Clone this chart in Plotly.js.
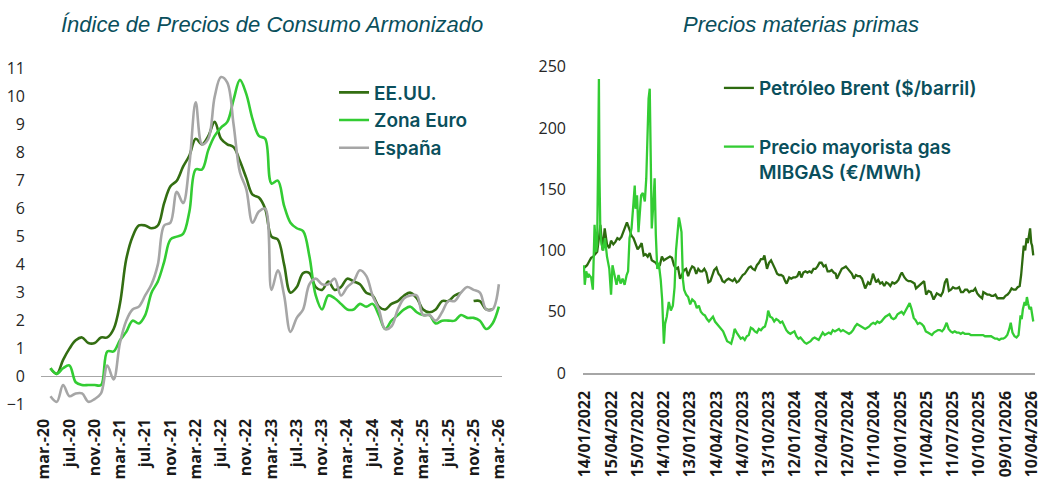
<!DOCTYPE html>
<html>
<head>
<meta charset="utf-8">
<script src="https://cdn.plot.ly/plotly-3.0.1.min.js"></script>
<style>
html,body{margin:0;padding:0;background:#ffffff;}
#chart{width:1040px;height:482px;}
</style>
</head>
<body>
<div id="chart"></div>
<script>
// ---------- Left chart: HICP (% yoy), monthly, mar.-20 .. mar.-26 ----------
const months = [
 "mar.-20","abr.-20","may.-20","jun.-20","jul.-20","ago.-20","sep.-20","oct.-20","nov.-20","dic.-20",
 "ene.-21","feb.-21","mar.-21","abr.-21","may.-21","jun.-21","jul.-21","ago.-21","sep.-21","oct.-21","nov.-21","dic.-21",
 "ene.-22","feb.-22","mar.-22","abr.-22","may.-22","jun.-22","jul.-22","ago.-22","sep.-22","oct.-22","nov.-22","dic.-22",
 "ene.-23","feb.-23","mar.-23","abr.-23","may.-23","jun.-23","jul.-23","ago.-23","sep.-23","oct.-23","nov.-23","dic.-23",
 "ene.-24","feb.-24","mar.-24","abr.-24","may.-24","jun.-24","jul.-24","ago.-24","sep.-24","oct.-24","nov.-24","dic.-24",
 "ene.-25","feb.-25","mar.-25","abr.-25","may.-25","jun.-25","jul.-25","ago.-25","sep.-25","oct.-25","nov.-25","dic.-25",
 "ene.-26","feb.-26","mar.-26"
];
const monthTicks = ["mar.-20","jul.-20","nov.-20","mar.-21","jul.-21","nov.-21","mar.-22","jul.-22","nov.-22",
 "mar.-23","jul.-23","nov.-23","mar.-24","jul.-24","nov.-24","mar.-25","jul.-25","nov.-25","mar.-26"];

const usa = [null,0.3,0.1,0.6,1.0,1.3,1.4,1.2,1.2,1.4,
 1.4,1.7,2.6,4.2,5.0,5.4,5.4,5.3,5.4,6.2,6.8,7.0,
 7.5,7.9,8.5,8.3,8.6,9.1,8.5,8.3,8.2,7.7,7.1,6.5,
 6.4,6.0,5.0,4.9,4.0,3.0,3.2,3.7,3.7,3.2,3.1,3.4,
 3.1,3.2,3.5,3.4,3.3,3.0,2.9,2.5,2.4,2.6,2.7,2.9,
 3.0,2.8,2.4,2.3,2.4,2.7,2.7,2.9,3.0,null,2.7,2.7,
 2.4,2.4,null];
const euroZone = [null,0.3,0.1,0.3,0.4,-0.2,-0.3,-0.3,-0.3,-0.3,
 0.9,0.9,1.3,1.6,2.0,1.9,2.2,3.0,3.4,4.1,4.9,5.0,
 5.1,5.9,7.4,7.4,8.1,8.6,8.9,9.1,9.9,10.6,10.1,9.2,
 8.6,8.5,6.9,7.0,6.1,5.5,5.3,5.2,4.3,2.9,2.4,2.9,
 2.8,2.6,2.4,2.4,2.6,2.5,2.6,2.2,1.7,2.0,2.2,2.4,
 2.5,2.3,2.2,2.2,1.9,2.0,2.0,2.0,2.2,2.1,2.1,2.0,
 1.7,1.9,2.5];
const spain = [null,-0.7,-0.9,-0.3,-0.7,-0.6,-0.6,-0.9,-0.8,-0.6,
 0.4,-0.1,1.2,2.0,2.4,2.5,2.9,3.3,4.0,5.4,5.5,6.6,
 6.2,7.6,9.8,8.3,8.5,10.0,10.7,10.5,9.0,7.3,6.7,5.5,
 5.9,6.0,3.1,3.8,2.9,1.6,2.1,2.4,3.3,3.5,3.3,3.3,
 3.5,2.9,3.2,3.4,3.8,3.6,2.9,2.4,1.7,1.8,2.4,2.8,
 2.9,2.9,2.2,2.2,2.0,2.3,2.7,2.7,3.0,3.2,3.1,3.0,
 2.4,2.4,3.3];

// ---------- Right chart: commodity prices ----------
const brentDates = [
 "2022-01-12","2022-01-21","2022-01-28","2022-02-04","2022-02-11","2022-02-18","2022-02-25","2022-03-04","2022-03-08","2022-03-11",
 "2022-03-16","2022-03-23","2022-03-31","2022-04-08","2022-04-14","2022-04-22","2022-04-29","2022-05-06","2022-05-13","2022-05-20",
 "2022-05-27","2022-06-03","2022-06-08","2022-06-17","2022-06-24","2022-07-01","2022-07-08","2022-07-15","2022-07-22","2022-07-29",
 "2022-08-05","2022-08-12","2022-08-19","2022-08-26","2022-09-02","2022-09-09","2022-09-16","2022-09-23","2022-09-30","2022-10-07",
 "2022-10-14","2022-10-21","2022-10-28","2022-11-04","2022-11-11","2022-11-18","2022-11-25","2022-12-02","2022-12-09","2022-12-16",
 "2022-12-23","2022-12-30","2023-01-06","2023-01-13","2023-01-20","2023-01-27","2023-02-03","2023-02-10","2023-02-17","2023-02-24",
 "2023-03-03","2023-03-10","2023-03-17","2023-03-24","2023-03-31","2023-04-06","2023-04-14","2023-04-21","2023-04-28","2023-05-05",
 "2023-05-12","2023-05-19","2023-05-26","2023-06-02","2023-06-09","2023-06-16","2023-06-23","2023-06-30","2023-07-07","2023-07-14",
 "2023-07-21","2023-07-28","2023-08-04","2023-08-11","2023-08-18","2023-08-25","2023-09-01","2023-09-08","2023-09-15","2023-09-22",
 "2023-09-27","2023-10-06","2023-10-13","2023-10-20","2023-10-27","2023-11-03","2023-11-10","2023-11-17","2023-11-24","2023-12-01",
 "2023-12-08","2023-12-13","2023-12-22","2023-12-29","2024-01-05","2024-01-12","2024-01-19","2024-01-26","2024-02-02","2024-02-09",
 "2024-02-16","2024-02-23","2024-03-01","2024-03-08","2024-03-15","2024-03-22","2024-03-29","2024-04-05","2024-04-12","2024-04-19",
 "2024-04-26","2024-05-03","2024-05-10","2024-05-17","2024-05-24","2024-05-31","2024-06-04","2024-06-14","2024-06-21","2024-06-28",
 "2024-07-05","2024-07-12","2024-07-19","2024-07-26","2024-08-02","2024-08-09","2024-08-16","2024-08-23","2024-08-30","2024-09-06",
 "2024-09-10","2024-09-20","2024-09-27","2024-10-04","2024-10-07","2024-10-18","2024-10-25","2024-11-01","2024-11-08","2024-11-15",
 "2024-11-22","2024-11-29","2024-12-06","2024-12-13","2024-12-20","2024-12-27","2025-01-03","2025-01-10","2025-01-15","2025-01-24",
 "2025-01-31","2025-02-07","2025-02-14","2025-02-21","2025-02-28","2025-03-05","2025-03-14","2025-03-21","2025-03-28","2025-04-02",
 "2025-04-09","2025-04-17","2025-04-25","2025-05-02","2025-05-05","2025-05-16","2025-05-23","2025-05-30","2025-06-06","2025-06-13",
 "2025-06-20","2025-06-27","2025-07-04","2025-07-11","2025-07-18","2025-07-25","2025-08-01","2025-08-08","2025-08-15","2025-08-22",
 "2025-08-29","2025-09-05","2025-09-12","2025-09-19","2025-09-26","2025-10-03","2025-10-10","2025-10-20","2025-10-24","2025-10-31",
 "2025-11-07","2025-11-14","2025-11-21","2025-11-28","2025-12-05","2025-12-12","2025-12-19","2025-12-26","2026-01-02","2026-01-09",
 "2026-01-16","2026-01-23","2026-01-30","2026-02-06","2026-02-13","2026-02-20","2026-02-27","2026-03-04","2026-03-09","2026-03-13",
 "2026-03-18","2026-03-23","2026-03-27","2026-04-01","2026-04-04","2026-04-08","2026-04-11","2026-04-15"
];
const brentValues = [
 86,88,91,94,95,97,99,112,121,113,
 100,118,105,102,108,105,107,110,109,111,
 115,119,123,117,112,110,105,101,103,106,
 96,97,95,98,92,91,90,87,88,95,
 92,93,94,95,94,88,85,86,77,80,
 84,85,79,84,87,86,81,85,83,83,
 85,82,74,75,79,84,86,81,79,75,
 74,76,77,76,75,77,74,75,78,80,
 81,84,86,87,85,84,88,90,93,93,
 96,85,90,92,89,85,81,80,80,79,
 75,73,78,77,78,78,79,83,78,82,
 83,82,83,82,85,85,87,90,90,87,
 88,83,83,84,82,81,77,82,85,86,
 87,85,83,81,77,80,79,79,77,72,
 69,74,72,78,81,74,76,73,74,71,
 74,73,71,74,73,74,76,80,82,78,
 76,75,75,74,73,69,71,72,74,75,
 64,67,66,61,60,65,64,63,66,74,
 77,67,68,70,69,69,70,66,66,68,
 68,66,67,67,69,65,63,61,66,65,
 64,64,63,63,64,61,61,61,61,63,
 64,66,69,68,68,70,71,80,95,104,
 100,110,106,113,118,106,104,96
];

const gasDates = [
 "2022-01-10","2022-01-13","2022-01-18","2022-01-24","2022-01-28","2022-02-04","2022-02-10","2022-02-16","2022-02-21","2022-02-25",
 "2022-03-01","2022-03-03","2022-03-05","2022-03-08","2022-03-12","2022-03-18","2022-03-24","2022-03-31","2022-04-08","2022-04-14",
 "2022-04-19","2022-04-26","2022-05-03","2022-05-10","2022-05-17","2022-05-24","2022-05-31","2022-06-07","2022-06-12","2022-06-17",
 "2022-06-24","2022-07-01","2022-07-05","2022-07-08","2022-07-13","2022-07-18","2022-07-22","2022-07-27","2022-08-02","2022-08-09",
 "2022-08-14","2022-08-19","2022-08-22","2022-08-26","2022-08-30","2022-09-02","2022-09-08","2022-09-12","2022-09-16","2022-09-21",
 "2022-09-26","2022-10-03","2022-10-08","2022-10-14","2022-10-18","2022-10-24","2022-10-31","2022-11-07","2022-11-14","2022-11-20",
 "2022-11-25","2022-11-30","2022-12-05","2022-12-09","2022-12-14","2022-12-19","2022-12-23","2022-12-30","2023-01-06","2023-01-13",
 "2023-01-20","2023-01-29","2023-02-05","2023-02-12","2023-02-19","2023-02-26","2023-03-05","2023-03-12","2023-03-19","2023-03-26",
 "2023-04-02","2023-04-09","2023-04-16","2023-04-23","2023-04-30","2023-05-07","2023-05-14","2023-05-21","2023-05-28","2023-06-04",
 "2023-06-11","2023-06-16","2023-06-23","2023-06-30","2023-07-07","2023-07-14","2023-07-21","2023-07-28","2023-08-04","2023-08-11",
 "2023-08-18","2023-08-25","2023-09-01","2023-09-08","2023-09-15","2023-09-22","2023-09-29","2023-10-06","2023-10-10","2023-10-17",
 "2023-10-24","2023-10-31","2023-11-07","2023-11-14","2023-11-21","2023-11-28","2023-12-05","2023-12-12","2023-12-19","2023-12-26",
 "2024-01-02","2024-01-09","2024-01-16","2024-01-23","2024-01-30","2024-02-06","2024-02-13","2024-02-20","2024-02-27","2024-03-05",
 "2024-03-12","2024-03-19","2024-03-26","2024-04-02","2024-04-09","2024-04-16","2024-04-23","2024-04-30","2024-05-07","2024-05-14",
 "2024-05-21","2024-05-28","2024-06-04","2024-06-11","2024-06-18","2024-06-25","2024-07-02","2024-07-09","2024-07-16","2024-07-23",
 "2024-07-30","2024-08-06","2024-08-13","2024-08-20","2024-08-27","2024-09-03","2024-09-10","2024-09-17","2024-09-24","2024-10-01",
 "2024-10-08","2024-10-15","2024-10-22","2024-10-29","2024-11-05","2024-11-12","2024-11-19","2024-11-26","2024-12-03","2024-12-10",
 "2024-12-17","2024-12-24","2024-12-31","2025-01-07","2025-01-14","2025-01-21","2025-01-28","2025-02-04","2025-02-11","2025-02-18",
 "2025-02-25","2025-03-04","2025-03-11","2025-03-18","2025-03-25","2025-04-01","2025-04-08","2025-04-15","2025-04-22","2025-04-29",
 "2025-05-06","2025-05-13","2025-05-20","2025-05-27","2025-06-03","2025-06-10","2025-06-19","2025-06-26","2025-07-03","2025-07-10",
 "2025-07-17","2025-07-24","2025-07-31","2025-08-07","2025-08-14","2025-08-21","2025-08-28","2025-09-04","2025-09-11","2025-09-18",
 "2025-09-25","2025-10-02","2025-10-09","2025-10-16","2025-10-23","2025-10-30","2025-11-06","2025-11-13","2025-11-20","2025-11-27",
 "2025-12-04","2025-12-11","2025-12-18","2025-12-25","2026-01-01","2026-01-08","2026-01-15","2026-01-22","2026-01-27","2026-02-02",
 "2026-02-09","2026-02-16","2026-02-23","2026-03-02","2026-03-06","2026-03-10","2026-03-16","2026-03-20","2026-03-24","2026-03-28",
 "2026-04-02","2026-04-07","2026-04-12","2026-04-15"
];
const gasValues = [
 88,72,83,78,80,78,68,121,99,105,
 190,240,160,115,105,100,110,95,85,64,
 88,80,72,80,73,77,72,80,83,110,
 118,140,153,134,145,115,130,145,147,140,
 159,200,224,232,146,118,140,159,113,85,
 90,76,60,24,40,46,58,51,55,70,
 100,118,127,122,115,76,68,64,62,56,
 60,58,53,55,50,48,47,44,42,44,
 46,42,40,38,36,34,30,26,25,24,
 30,36,33,30,28,29,27,30,31,37,
 36,34,33,36,35,37,38,44,51,46,
 45,42,44,43,41,42,38,35,33,32,
 33,34,30,28,29,27,25,24,25,26,
 28,29,28,27,30,33,31,32,33,32,
 35,34,35,36,34,35,34,33,32,33,
 35,38,40,39,38,37,36,37,38,40,
 41,40,42,41,42,44,46,47,48,45,
 44,45,48,49,50,48,51,54,57,52,
 45,43,40,41,40,38,34,33,32,31,
 33,34,35,35,34,36,41,36,34,33,
 34,33,33,32,33,32,32,32,31,31,
 31,31,31,31,31,30,30,30,30,29,
 28,28,27,28,28,29,31,36,41,33,
 30,29,31,47,44,52,58,55,62,57,
 52,54,45,42
];

const dateTick0 = "2022-01-14";
const dateTickDays = 91;

const teal = "#0a4f5c";
const tickFont = {family: "Open Sans", size: 16, color: "#262626"};
const xTickFont = {family: "Open Sans", size: 16, color: "#1a1a1a", weight: 700};
const legendFont = {family: "Inter", size: 19, color: teal, weight: 600};
const titleFont = {family: "Liberation Sans", size: 22, color: teal, style: "italic"};

const traces = [
 {x: months, y: usa, name: "EE.UU.", type: "scatter", mode: "lines", xaxis: "x", yaxis: "y",
  line: {color: "#336e12", width: 2.6, shape: "spline", smoothing: 1}, connectgaps: false, legend: "legend"},
 {x: months, y: euroZone, name: "Zona Euro", type: "scatter", mode: "lines", xaxis: "x", yaxis: "y",
  line: {color: "#33cc33", width: 2.6, shape: "spline", smoothing: 1}, connectgaps: false, legend: "legend"},
 {x: months, y: spain, name: "España", type: "scatter", mode: "lines", xaxis: "x", yaxis: "y",
  line: {color: "#a6a6a6", width: 2.6, shape: "spline", smoothing: 1}, connectgaps: false, legend: "legend"},
 {x: brentDates, y: brentValues, name: "Petróleo Brent ($/barril)", type: "scatter", mode: "lines", xaxis: "x2", yaxis: "y2",
  line: {color: "#2d6a0f", width: 2.3}, legend: "legend2", legendgroup: "g1"},
 {x: gasDates, y: gasValues, name: "Precio mayorista gas<br>MIBGAS (€/MWh)", type: "scatter", mode: "lines", xaxis: "x2", yaxis: "y2",
  line: {color: "#33cc33", width: 2.3}, legend: "legend2", legendgroup: "g2"}
];

const layout = {
 width: 1040, height: 482,
 margin: {l: 41, r: 5, t: 66, b: 76},
 paper_bgcolor: "#ffffff", plot_bgcolor: "#ffffff",
 showlegend: true,
 xaxis: {domain: [0, 0.4638], type: "category", range: [-0.5, 72.5], tickmode: "array", tickvals: monthTicks,
  tickangle: -90, tickfont: xTickFont, showgrid: false, showline: false, zeroline: false, ticks: "", ticklabelstandoff: 10,
  ticklabeloverflow: "allow", anchor: "y"},
 yaxis: {domain: [0.004, 0.992], range: [-1, 11], dtick: 1, tickfont: tickFont, showgrid: false, showline: false,
  zeroline: true, zerolinecolor: "#a6a6a6", zerolinewidth: 1.5, ticks: "", ticklabelstandoff: 15, anchor: "x"},
 xaxis2: {domain: [0.5453, 1.0], type: "date", range: ["2022-01-07", "2026-04-21"], tick0: dateTick0,
  dtick: dateTickDays * 86400000, tickformat: "%d/%m/%Y", tickangle: -90, tickfont: xTickFont,
  showgrid: false, showline: true, linecolor: "#a6a6a6", linewidth: 1.5, zeroline: false, ticks: "", ticklabelstandoff: 10,
  ticklabeloverflow: "allow", anchor: "y2"},
 yaxis2: {domain: [0.097, 0.998], range: [0, 250], dtick: 50, tickfont: tickFont, showgrid: false, showline: false,
  zeroline: false, ticks: "", ticklabelstandoff: 16, anchor: "x2"},
 legend: {x: 0.2948, y: 0.978, xanchor: "left", yanchor: "top", bgcolor: "rgba(0,0,0,0)", font: legendFont,
  itemwidth: 30, tracegroupgap: 0},
 legend2: {x: 0.682, y: 0.991, xanchor: "left", yanchor: "top", bgcolor: "rgba(0,0,0,0)", font: legendFont,
  itemwidth: 30, traceorder: "grouped", tracegroupgap: 31, valign: "top"},
 annotations: [
  {text: "Índice de Precios de Consumo Armonizado", xref: "paper", yref: "paper", x: 0.2324, y: 1.1235,
   xanchor: "center", yanchor: "middle", showarrow: false, font: titleFont},
  {text: "Precios materias primas", xref: "paper", yref: "paper", x: 0.7646, y: 1.1235,
   xanchor: "center", yanchor: "middle", showarrow: false, font: titleFont}
 ]
};

Plotly.newPlot("chart", traces, layout, {staticPlot: true, displayModeBar: false});
</script>
</body>
</html>
